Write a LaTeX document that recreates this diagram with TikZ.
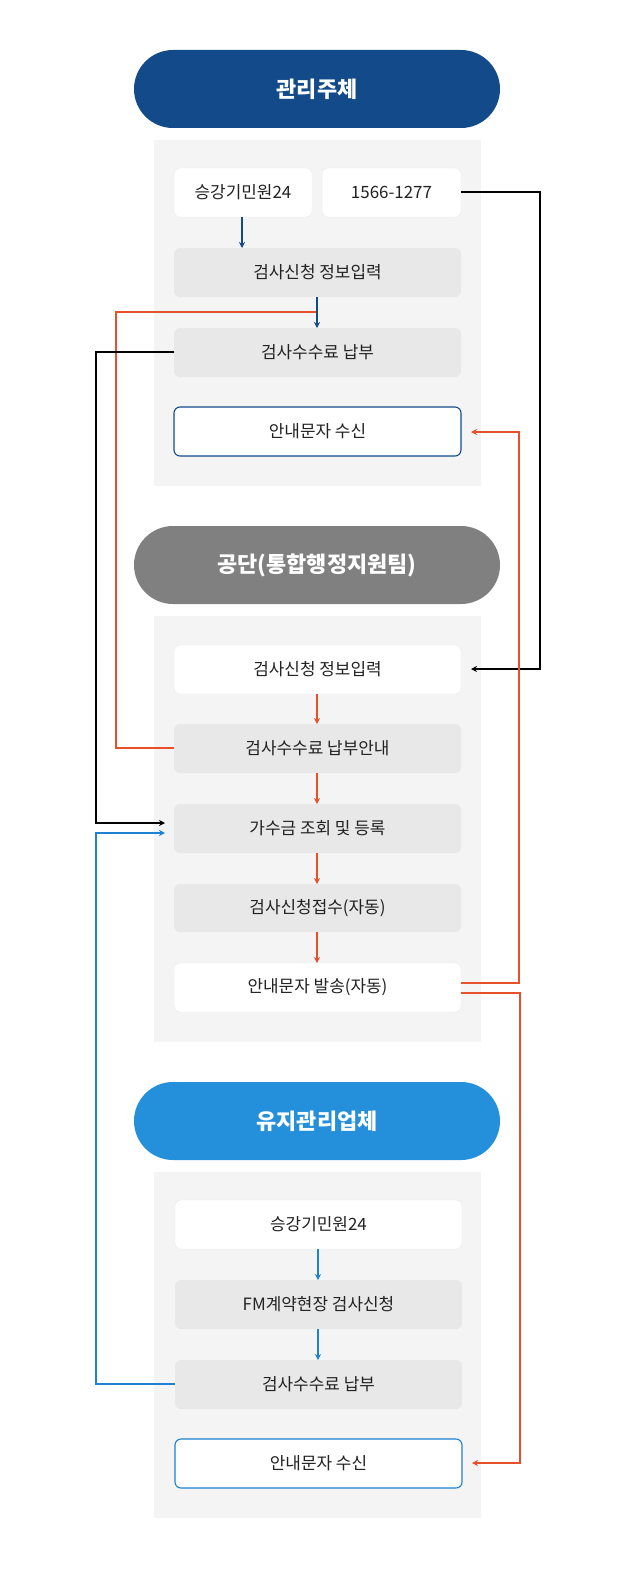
\documentclass[tikz,border=0pt]{standalone}
\usepackage{fontspec}
\setmainfont{Noto Sans CJK KR}
\usetikzlibrary{arrows.meta}
\definecolor{navy}{HTML}{124A8A}
\definecolor{hgrey}{HTML}{808080}
\definecolor{hblue}{HTML}{2490DC}
\definecolor{panel}{HTML}{F4F4F4}
\definecolor{gbox}{HTML}{E8E8E8}
\definecolor{txt}{HTML}{222222}
\definecolor{ored}{HTML}{E8502A}
\definecolor{lblue}{HTML}{1E82D2}
\begin{document}
\begin{tikzpicture}[x=1bp,y=-1bp,
  hdr/.style={rounded corners=39bp},
  pnl/.style={fill=panel},
  wb/.style={draw=black!8,fill=white,rounded corners=6bp},
  gb/.style={fill=gbox,rounded corners=6bp},
  bb/.style={draw=navy,line width=1.1bp,fill=white,rounded corners=6bp},
  bb2/.style={draw=lblue,line width=1.1bp,fill=white,rounded corners=6bp},
  lab/.style={text=txt,font=\fontsize{17}{19}\selectfont},
  ht/.style={font=\fontsize{22}{24}\selectfont\bfseries,text=white},
  ar/.style={-{Stealth[length=6bp,width=6bp]},line width=1.1bp},
  ln/.style={line width=1.2bp}]
\useasboundingbox (0,0) rectangle (640,1580);
% headers
\fill[navy,hdr] (134,50) rectangle (500,128);
\node[ht] (h1) at (317,89) {관리주체};
\fill[hgrey,hdr] (134,526) rectangle (500,604);
\node[ht] (h2) at (317,565) {공단(통합행정지원팀)};
\fill[hblue,hdr] (134,1082) rectangle (500,1160);
\node[ht] (h3) at (317,1121) {유지관리업체};
% panels
\fill[pnl] (154,140) rectangle (481,486);
\fill[pnl] (154,616) rectangle (481,1042);
\fill[pnl] (154,1172) rectangle (481,1518);
% section 1
\draw[wb] (174,168) rectangle (312,217); \node[lab] (a1) at (243,192.5) {승강기민원24};
\draw[wb] (322,168) rectangle (461,217); \node[lab] (a2) at (391.5,192.5) {1566-1277};
\fill[gb] (174,248) rectangle (461,297); \node[lab] (a3) at (317.5,272.5) {검사신청 정보입력};
\fill[gb] (174,328) rectangle (461,377); \node[lab] (a4) at (317.5,352.5) {검사수수료 납부};
\draw[bb] (174,407) rectangle (461,456); \node[lab] (a5) at (317.5,431.5) {안내문자 수신};
\coordinate (a1b) at (242,217); \coordinate (a3t) at (242,248);
\coordinate (a3b) at (317,297); \coordinate (a4t) at (317,328);
\coordinate (a2e) at (461,192); \coordinate (a4w) at (174,352); \coordinate (a5e) at (471,432);
% section 2
\draw[wb] (174,645) rectangle (461,694); \node[lab] (b1) at (317.5,669.5) {검사신청 정보입력};
\fill[gb] (174,724) rectangle (461,773); \node[lab] (b2) at (317.5,748.5) {검사수수료 납부안내};
\fill[gb] (174,804) rectangle (461,853); \node[lab] (b3) at (317.5,828.5) {가수금 조회 및 등록};
\fill[gb] (174,884) rectangle (461,932); \node[lab] (b4) at (317.5,908) {검사신청접수(자동)};
\draw[wb] (174,963) rectangle (461,1012); \node[lab] (b5) at (317.5,987.5) {안내문자 발송(자동)};
\coordinate (b1e) at (471,669); \coordinate (b2w) at (174,748);
\coordinate (b3w) at (165,823); \coordinate (b3w2) at (165,833);
% section 3
\draw[wb] (175,1200) rectangle (462,1249); \node[lab] (c1) at (318.5,1224.5) {승강기민원24};
\fill[gb] (175,1280) rectangle (462,1329); \node[lab] (c2) at (318.5,1304.5) {FM계약현장 검사신청};
\fill[gb] (175,1360) rectangle (462,1409); \node[lab] (c3) at (318.5,1384.5) {검사수수료 납부};
\draw[bb2] (175,1439) rectangle (462,1488); \node[lab] (c4) at (318.5,1463.5) {안내문자 수신};
\coordinate (c4e) at (472,1463); \coordinate (c3w) at (175,1384);
% connectors
\draw[ar,navy] (a1b) -- (a3t);
\draw[ln,ored] (b2w) -- (116,748) -- (116,312) -- (317,312);
\draw[ar,navy] (a3b) -- (a4t);
\draw[ar,black] (a2e) -- (540,192) -- (540,669) -- (b1e);
\draw[ar,black] (a4w) -- (96,352) -- (96,823) -- (b3w);
\draw[ar,lblue] (c3w) -- (96,1384) -- (96,833) -- (b3w2);
\foreach \y/\z in {694/724,773/804,853/884,932/963}
  \draw[ar,ored] (317,\y) -- (317,\z);
\draw[ar,ored] (461,983) -- (519,983) -- (519,432) -- (a5e);
\draw[ar,ored] (461,993) -- (520,993) -- (520,1463) -- (c4e);
\draw[ar,lblue] (318,1249) -- (318,1280);
\draw[ar,lblue] (318,1329) -- (318,1360);
\end{tikzpicture}
\end{document}
